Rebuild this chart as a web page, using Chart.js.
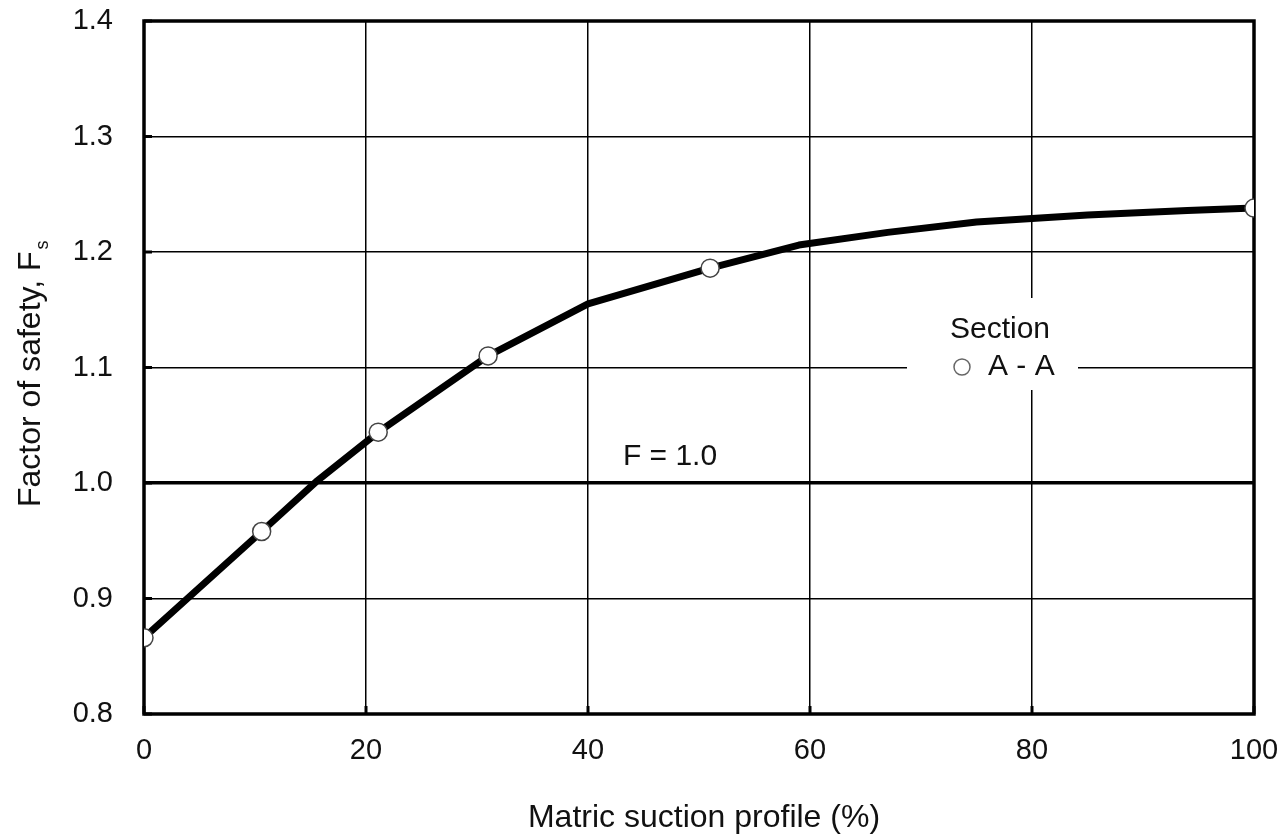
<!DOCTYPE html>
<html>
<head>
<meta charset="utf-8">
<script src="https://cdn.jsdelivr.net/npm/chart.js@4"></script>
<style>
  html, body { margin: 0; padding: 0; background: #fff; }
  canvas { display: block; }
</style>
</head>
<body>
<canvas id="grafico" width="1284" height="835"></canvas>
<script>
  // Curva (vertices da linha)
  const curvaX = [0, 10.6, 15.5, 21.1, 31, 40, 51, 59, 67, 75, 85, 94, 100];
  const curvaY = [0.866, 0.958, 1.001, 1.044, 1.110, 1.155, 1.186, 1.206, 1.217, 1.226, 1.232, 1.236, 1.238];

  // Pontos calculados (secao A - A)
  const pontosX = [0, 10.6, 21.1, 31, 51, 100];
  const pontosY = [0.866, 0.958, 1.044, 1.110, 1.186, 1.238];

  const xTicks = [0, 20, 40, 60, 80, 100];
  const yTicks = [0.8, 0.9, 1.0, 1.1, 1.2, 1.3, 1.4];

  const tituloX = 'Matric suction profile (%)';
  const tituloY = 'Factor of safety, F';
  const tituloYSub = 's';
  const legendaTitulo = 'Section';
  const legendaSerie = 'A - A';
  const rotuloF = 'F = 1.0';

  const FONTE = '"Liberation Sans", Arial, sans-serif';

  const extras = {
    id: 'extras',
    beforeDatasetsDraw(chart) {
      const ctx = chart.ctx;
      const a = chart.chartArea;
      const sx = chart.scales.x, sy = chart.scales.y;
      ctx.save();
      // legenda com fundo branco sobre a grade
      ctx.fillStyle = '#fff';
      ctx.fillRect(907, 298, 171, 92);
      // moldura grossa
      ctx.strokeStyle = '#000';
      ctx.lineWidth = 3.5;
      ctx.strokeRect(a.left, a.top, a.right - a.left, a.bottom - a.top);
      // marcas internas
      ctx.lineWidth = 3;
      yTicks.forEach(v => {
        const y = sy.getPixelForValue(v);
        ctx.beginPath(); ctx.moveTo(a.left, y); ctx.lineTo(a.left + 8, y); ctx.stroke();
      });
      xTicks.forEach(v => {
        const x = sx.getPixelForValue(v);
        ctx.beginPath(); ctx.moveTo(x, a.bottom); ctx.lineTo(x, a.bottom - 8); ctx.stroke();
      });

      ctx.fillStyle = '#111';
      ctx.font = '30px ' + FONTE;
      ctx.textBaseline = 'alphabetic';
      ctx.textAlign = 'center';
      ctx.fillText(legendaTitulo, 1000, 338);
      ctx.textAlign = 'left';
      ctx.fillText(legendaSerie, 988, 375);
      ctx.beginPath();
      ctx.arc(962, 367, 8, 0, Math.PI * 2);
      ctx.fillStyle = '#fff';
      ctx.fill();
      ctx.strokeStyle = '#666';
      ctx.lineWidth = 1.5;
      ctx.stroke();

      ctx.fillStyle = '#111';
      ctx.textAlign = 'center';
      ctx.fillText(rotuloF, 670, 465);

      // titulos dos eixos
      ctx.font = '32px ' + FONTE;
      ctx.fillText(tituloX, 704, 827);

      ctx.translate(40, 507);
      ctx.rotate(-Math.PI / 2);
      ctx.textAlign = 'left';
      ctx.fillText(tituloY, 0, 0);
      const w = ctx.measureText(tituloY).width;
      ctx.font = '18px ' + FONTE;
      ctx.fillText(tituloYSub, w + 2, 8);
      ctx.restore();
    }
  };

  new Chart(document.getElementById('grafico'), {
    type: 'scatter',
    data: {
      datasets: [
        {
          label: 'curva',
          data: curvaX.map((x, i) => ({ x, y: curvaY[i] })),
          showLine: true,
          borderColor: '#000',
          borderWidth: 7,
          borderJoinStyle: 'round',
          pointRadius: 0,
          tension: 0,
          order: 2
        },
        {
          label: legendaSerie,
          data: pontosX.map((x, i) => ({ x, y: pontosY[i] })),
          showLine: false,
          pointRadius: 9,
          pointBackgroundColor: '#fff',
          pointBorderColor: '#444',
          pointBorderWidth: 1.5,
          order: 1
        }
      ]
    },
    options: {
      responsive: false,
      animation: false,
      layout: { padding: { left: 0, right: 30, top: 21, bottom: 0 } },
      plugins: { legend: { display: false }, tooltip: { enabled: false } },
      scales: {
        x: {
          type: 'linear', min: 0, max: 100,
          afterFit: s => { s.height = 121; s.paddingLeft = 0; s.paddingRight = 0; },
          afterBuildTicks: s => { s.ticks = xTicks.map(v => ({ value: v })); },
          border: { display: false },
          grid: { color: '#000', lineWidth: 1.5, drawTicks: false },
          ticks: { color: '#111', padding: 20, maxRotation: 0, font: { family: FONTE, size: 29 } }
        },
        y: {
          type: 'linear', min: 0.8, max: 1.4,
          afterFit: s => { s.width = 144; s.paddingTop = 0; s.paddingBottom = 0; },
          afterBuildTicks: s => { s.ticks = yTicks.map(v => ({ value: v })); },
          border: { display: false },
          grid: {
            color: '#000',
            lineWidth: c => (c.tick && Math.abs(c.tick.value - 1.0) < 1e-6) ? 3.5 : 1.5,
            drawTicks: false
          },
          ticks: {
            color: '#111', padding: 31,
            font: { family: FONTE, size: 29 },
            callback: v => Number(v).toFixed(1)
          }
        }
      }
    },
    plugins: [extras]
  });
</script>
</body>
</html>
